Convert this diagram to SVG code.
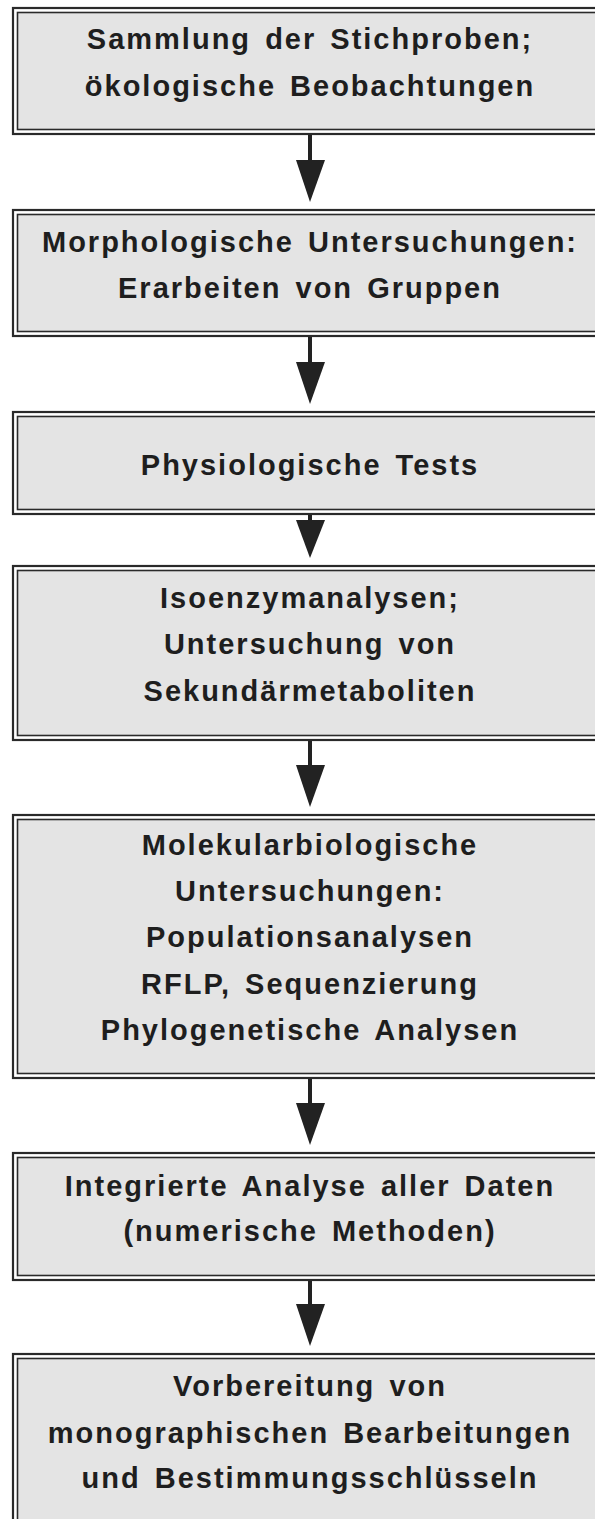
<svg xmlns="http://www.w3.org/2000/svg" width="595" height="1519" viewBox="0 0 595 1519">
<style>
.outer{fill:none;stroke:#2a2a2a;stroke-width:2.2}
.inner{fill:#e4e4e4;stroke:#2a2a2a;stroke-width:1.6}
.t{font-family:"Liberation Sans",Arial,sans-serif;font-weight:bold;font-size:29px;fill:#1e1e1e;text-anchor:middle;letter-spacing:2px;word-spacing:4px}
.shaft{stroke:#222;stroke-width:4}
.head{fill:#222}
</style>
<rect width="595" height="1519" fill="#ffffff"/>
<g id="box1">
<rect class="outer" x="13" y="8" width="600" height="126"/>
<rect class="inner" x="17.5" y="12.5" width="600" height="117"/>
<text class="t" x="310" y="49">Sammlung der Stichproben;</text>
<text class="t" x="310" y="96">ökologische Beobachtungen</text>
</g>
<g id="box2">
<rect class="outer" x="13" y="210" width="600" height="126"/>
<rect class="inner" x="17.5" y="214.5" width="600" height="117"/>
<text class="t" x="310" y="252">Morphologische Untersuchungen:</text>
<text class="t" x="310" y="298">Erarbeiten von Gruppen</text>
</g>
<g id="box3">
<rect class="outer" x="13" y="412" width="600" height="102"/>
<rect class="inner" x="17.5" y="416.5" width="600" height="93"/>
<text class="t" x="310" y="475">Physiologische Tests</text>
</g>
<g id="box4">
<rect class="outer" x="13" y="566" width="600" height="174"/>
<rect class="inner" x="17.5" y="570.5" width="600" height="165"/>
<text class="t" x="310" y="608">Isoenzymanalysen;</text>
<text class="t" x="310" y="654">Untersuchung von</text>
<text class="t" x="310" y="701">Sekundärmetaboliten</text>
</g>
<g id="box5">
<rect class="outer" x="13" y="815" width="600" height="263"/>
<rect class="inner" x="17.5" y="819.5" width="600" height="254"/>
<text class="t" x="310" y="855">Molekularbiologische</text>
<text class="t" x="310" y="901">Untersuchungen:</text>
<text class="t" x="310" y="947">Populationsanalysen</text>
<text class="t" x="310" y="994">RFLP, Sequenzierung</text>
<text class="t" x="310" y="1040">Phylogenetische Analysen</text>
</g>
<g id="box6">
<rect class="outer" x="13" y="1153" width="600" height="127"/>
<rect class="inner" x="17.5" y="1157.5" width="600" height="118"/>
<text class="t" x="310" y="1196">Integrierte Analyse aller Daten</text>
<text class="t" x="310" y="1241">(numerische Methoden)</text>
</g>
<g id="box7">
<rect class="outer" x="13" y="1354" width="600" height="200"/>
<rect class="inner" x="17.5" y="1358.5" width="600" height="200"/>
<text class="t" x="310" y="1396">Vorbereitung von</text>
<text class="t" x="310" y="1443">monographischen Bearbeitungen</text>
<text class="t" x="310" y="1488">und Bestimmungsschlüsseln</text>
</g>
<g id="connectors">
<line class="shaft" x1="310" y1="135" x2="310" y2="162"/>
<polygon class="head" points="296,160 325,160 310,202"/>
<line class="shaft" x1="310" y1="337" x2="310" y2="364"/>
<polygon class="head" points="296,362 325,362 310,404"/>
<line class="shaft" x1="310" y1="515" x2="310" y2="522"/>
<polygon class="head" points="296,520 325,520 310,558"/>
<line class="shaft" x1="310" y1="741" x2="310" y2="767"/>
<polygon class="head" points="296,765 325,765 310,807"/>
<line class="shaft" x1="310" y1="1079" x2="310" y2="1105"/>
<polygon class="head" points="296,1103 325,1103 310,1145"/>
<line class="shaft" x1="310" y1="1281" x2="310" y2="1306"/>
<polygon class="head" points="296,1304 325,1304 310,1346"/>
</g>
</svg>
